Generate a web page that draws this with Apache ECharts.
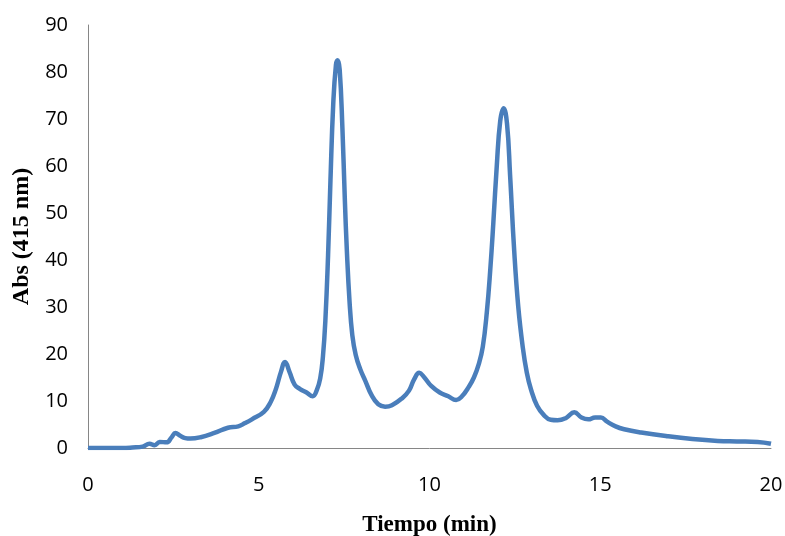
<!DOCTYPE html>
<html>
<head>
<meta charset="utf-8">
<script src="https://cdn.jsdelivr.net/npm/echarts@6/dist/echarts.min.js"></script>
<style>
html, body { margin: 0; padding: 0; background: #fff; }
#chart { width: 785px; height: 536px; }
</style>
</head>
<body>
<div id="chart"></div>
<script>
// tiempo (min)
var tiempo = [0, 0.5, 1.0, 1.3, 1.6, 1.8, 1.95, 2.1, 2.3, 2.45, 2.56, 2.7, 2.85, 3.0, 3.3, 3.7,
    4.1, 4.4, 4.6, 4.8, 5.15, 5.35, 5.5, 5.65, 5.77, 5.9, 6.05, 6.2, 6.4, 6.58, 6.7, 6.8,
    6.88, 6.95, 7.03, 7.1, 7.18, 7.26, 7.31, 7.37, 7.45, 7.52, 7.58, 7.66, 7.74, 7.84, 7.97,
    8.12, 8.3, 8.5, 8.7, 8.9, 9.2, 9.4, 9.55, 9.7, 9.85, 10.05, 10.3, 10.55, 10.78, 10.95,
    11.15, 11.3, 11.44, 11.56, 11.68, 11.78, 11.87, 11.97, 12.07, 12.17, 12.27, 12.36, 12.48,
    12.6, 12.73, 12.85, 12.97, 13.15, 13.35, 13.55, 13.75, 14.0, 14.24, 14.45, 14.65, 14.85,
    15.02, 15.2, 15.45, 15.7, 16.2, 16.97, 17.7, 18.44, 19.0, 19.61, 20.0];
// Abs (415 nm)
var abs415 = [0, 0, 0, 0.1, 0.3, 0.9, 0.6, 1.3, 1.2, 2.3, 3.2, 2.6, 2.1, 2.0, 2.3, 3.2,
    4.3, 4.6, 5.3, 6.1, 7.7, 9.8, 12.5, 16.2, 18.3, 16.2, 13.5, 12.6, 11.8, 11.0, 12.3, 14.8,
    19.5, 27, 41, 57, 73, 81.5, 82.5, 80.5, 68, 53, 42, 31, 24, 19.8, 16.8,
    14.3, 11.3, 9.3, 8.8, 9.1, 10.6, 12.2, 14.6, 16.0, 15.0, 13.2, 11.8, 11.0, 10.2, 11.0,
    13.0, 15.0, 17.8, 21.5, 29, 38, 48, 60, 69.5, 72.3, 69, 58, 42,
    30, 21.5, 16, 12.5, 9.0, 7.0, 6.0, 5.9, 6.4, 7.6, 6.5, 6.1, 6.5,
    6.5, 5.6, 4.6, 4.0, 3.3, 2.5, 1.9, 1.5, 1.4, 1.3, 0.9];

var puntos = tiempo.map(function (t, i) { return [t, abs415[i]]; });

var chart = echarts.init(document.getElementById('chart'));
chart.setOption({
    animation: false,
    grid: { left: 88, right: 14, top: 25, bottom: 88, outerBoundsMode: 'none', containLabel: false },
    xAxis: {
        type: 'value',
        min: 0, max: 20, interval: 5,
        name: 'Tiempo (min)',
        nameLocation: 'middle',
        nameGap: 66,
        nameTextStyle: { fontFamily: 'Liberation Serif', fontWeight: 'bold', fontSize: 23, color: '#000' },
        axisLine: { lineStyle: { color: '#868686', width: 1 } },
        axisTick: { show: false },
        splitLine: { show: false },
        axisLabel: { margin: 27, fontFamily: 'Open Sans', fontSize: 20, color: '#000' }
    },
    yAxis: {
        type: 'value',
        min: 0, max: 90, interval: 10,
        name: 'Abs (415 nm)',
        nameLocation: 'middle',
        nameGap: 54,
        nameTextStyle: { fontFamily: 'Liberation Serif', fontWeight: 'bold', fontSize: 24, color: '#000' },
        axisLine: { show: true, lineStyle: { color: '#868686', width: 1 } },
        axisTick: { show: false },
        splitLine: { show: false },
        axisLabel: { margin: 20, fontFamily: 'Open Sans', fontSize: 20, color: '#000' }
    },
    series: [{
        type: 'line',
        data: puntos,
        smooth: 0.45,
        showSymbol: false,
        lineStyle: { color: '#4a7ebb', width: 4.5 }
    }]
});
</script>
</body>
</html>
